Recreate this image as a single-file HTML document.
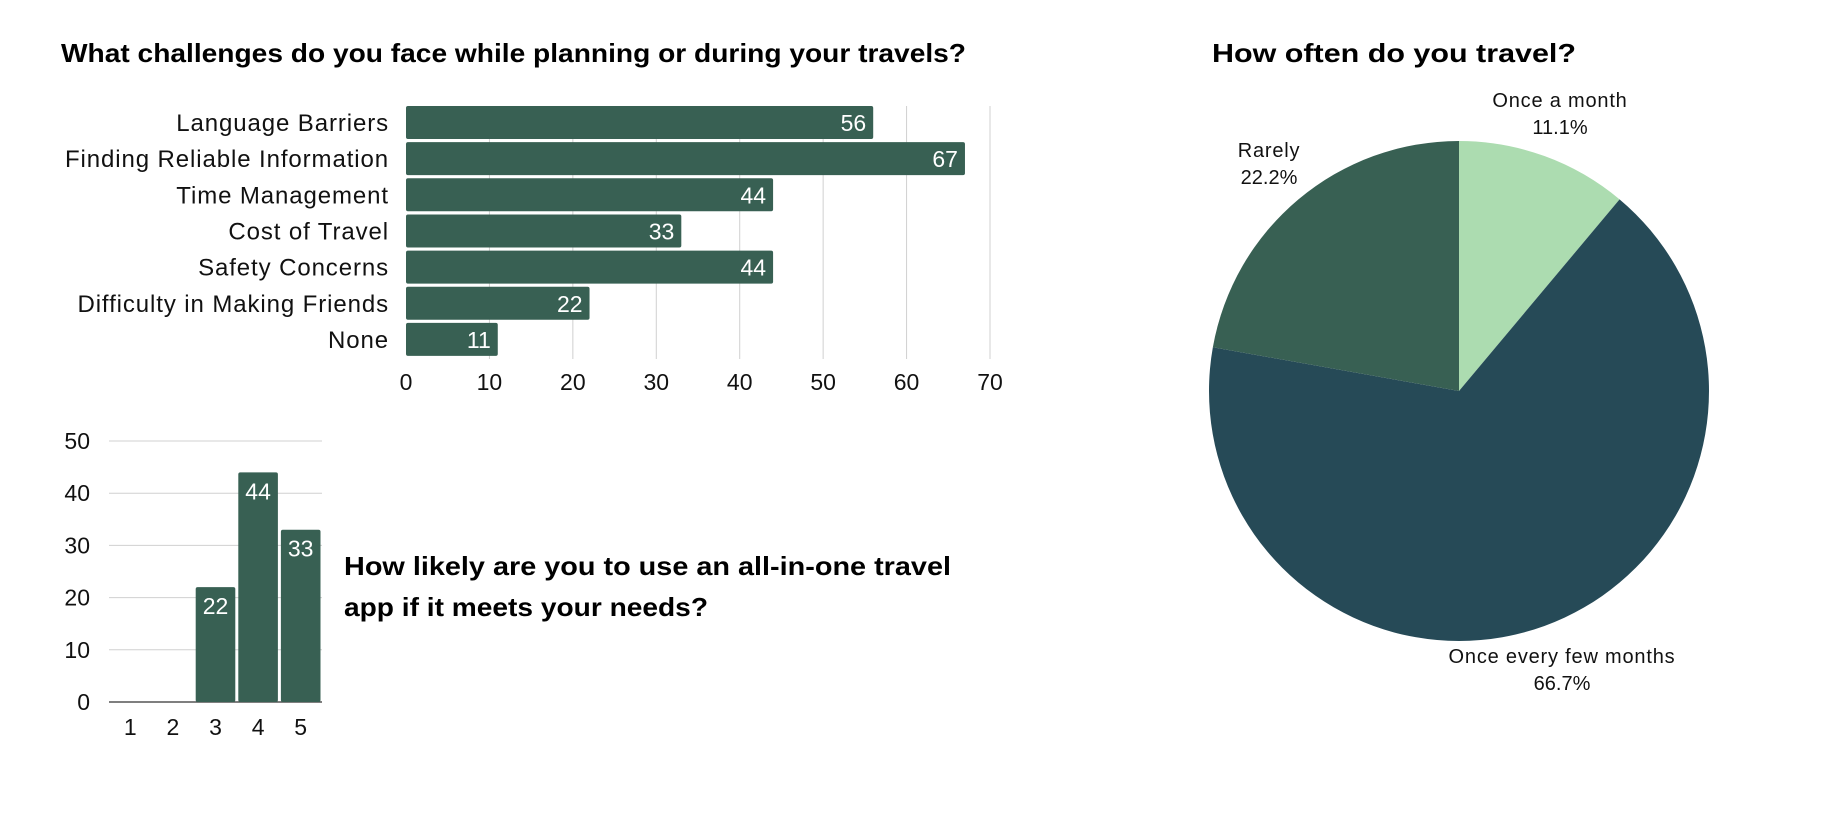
<!DOCTYPE html>
<html><head><meta charset="utf-8"><style>
html,body{margin:0;padding:0;background:#fff;}
svg{display:block;font-family:"Liberation Sans",sans-serif;}
</style></head><body>
<svg id="chart" width="1836" height="814" viewBox="0 0 1836 814" xmlns="http://www.w3.org/2000/svg">
<text x="61" y="62" font-size="26" font-weight="bold" fill="#000" textLength="905" lengthAdjust="spacingAndGlyphs">What challenges do you face while planning or during your travels?</text>
<text x="1212" y="62" font-size="26" font-weight="bold" fill="#000" textLength="364" lengthAdjust="spacingAndGlyphs">How often do you travel?</text>
<text x="344" y="575" font-size="26" font-weight="bold" fill="#000" textLength="607" lengthAdjust="spacingAndGlyphs">How likely are you to use an all-in-one travel</text>
<text x="344" y="616" font-size="26" font-weight="bold" fill="#000" textLength="364" lengthAdjust="spacingAndGlyphs">app if it meets your needs?</text>
<g id="hbar"></g>
<g id="vbar"></g>
<g id="pie"></g>
</svg>
<script>
const challengeCategories = ["Language Barriers","Finding Reliable Information","Time Management","Cost of Travel","Safety Concerns","Difficulty in Making Friends","None"];
const challengeValues = [56,67,44,33,44,22,11];
const challengeTicks = [0,10,20,30,40,50,60,70];
const likelyCategories = ["1","2","3","4","5"];
const likelyValues = [0,0,22,44,33];
const likelyTicks = [0,10,20,30,40,50];
const pieLabels = ["Once a month","Once every few months","Rarely"];
const pieValues = [11.1,66.7,22.2];
const pieColors = ["#acdcb0","#264a57","#386053"];

const NS="http://www.w3.org/2000/svg";
function mk(tag,attrs,parent,text){const e=document.createElementNS(NS,tag);for(const k in attrs)e.setAttribute(k,attrs[k]);if(text!==undefined)e.textContent=text;parent.appendChild(e);return e;}
const BAR="#386053";

// Horizontal bar chart
const hg=document.getElementById('hbar');
const hx0=406,hx1=990,hTop=106,hPitch=36.15,hMax=70;
const hx=v=>hx0+(v/hMax)*(hx1-hx0);
const hy=i=>hTop+i*hPitch;
challengeTicks.forEach(t=>{
  if(t>0){const l=mk('line',{x1:hx(t),x2:hx(t),y1:hTop,y2:hTop+7*hPitch,stroke:'#d0d0d0','stroke-width':1},hg);
  
  }
  const tl=mk('text',{x:hx(t),y:390,'font-size':23,'text-anchor':'middle',fill:'#111'},hg,String(t));
  
  
});
challengeCategories.forEach((c,i)=>{
  const y=hy(i);
  const r=mk('rect',{x:hx0,y:y,width:hx(challengeValues[i])-hx0,height:33,rx:2,fill:BAR},hg);
  
  
  const lab=mk('text',{x:389,y:y+25,'font-size':24,'letter-spacing':'0.9','text-anchor':'end',fill:'#111'},hg,c);
  
  
  const vl=mk('text',{x:hx(challengeValues[i])-7,y:y+25,'font-size':23,'text-anchor':'end',fill:'#fff'},hg,String(challengeValues[i]));
  
  
});

// Column chart
const vg=document.getElementById('vbar');
const vy0=702,vy50=441,vxL=109,vxR=322,vMax=50;
const vy=v=>vy0-(v/vMax)*(vy0-vy50);
const vStep=(vxR-vxL)/likelyCategories.length;
likelyTicks.forEach(t=>{
  const l=mk('line',{x1:vxL,x2:vxR,y1:vy(t),y2:vy(t),stroke:t===0?'#555':'#d0d0d0','stroke-width':t===0?1.5:1},vg);
  
  
  const tl=mk('text',{x:90,y:vy(t)+8,'font-size':23,'text-anchor':'end',fill:'#111'},vg,String(t));
  
  
});
likelyCategories.forEach((c,i)=>{
  const cx=vxL+vStep*(i+0.5);
  const v=likelyValues[i];
  if(v>0){
    const r=mk('rect',{x:cx-vStep/2+1.5,y:vy(v),width:vStep-3,height:vy0-vy(v),rx:2,fill:BAR},vg);
    
    
    const vl=mk('text',{x:cx,y:vy(v)+27,'font-size':23,'text-anchor':'middle',fill:'#fff'},vg,String(v));
    
    
  }
  const xl=mk('text',{x:cx,y:735,'font-size':23,'text-anchor':'middle',fill:'#111'},vg,c);
  
  
});

// Pie chart
const pg=document.getElementById('pie');
const pcx=1459,pcy=391,pr=250;
const total=pieValues.reduce((a,b)=>a+b,0);
let ang=-Math.PI/2;
const labelPos=[[1560,100],[1562,656],[1269,150]];
pieValues.forEach((v,i)=>{
  const a0=ang,a1=ang+v/total*2*Math.PI;ang=a1;
  const large=(a1-a0)>Math.PI?1:0;
  const d=`M${pcx},${pcy} L${pcx+pr*Math.cos(a0)},${pcy+pr*Math.sin(a0)} A${pr},${pr} 0 ${large} 1 ${pcx+pr*Math.cos(a1)},${pcy+pr*Math.sin(a1)} Z`;
  const p=mk('path',{d:d,fill:pieColors[i]},pg);
  
  
  const [lx,ly]=labelPos[i];
  const t1=mk('text',{x:lx,y:ly+7,'font-size':20,'letter-spacing':'0.8','text-anchor':'middle',fill:'#111'},pg,pieLabels[i]);
  
  
  const t2=mk('text',{x:lx,y:ly+34,'font-size':20,'text-anchor':'middle',fill:'#111'},pg,v.toFixed(1)+'%');
  
  
});
</script>
</body></html>
